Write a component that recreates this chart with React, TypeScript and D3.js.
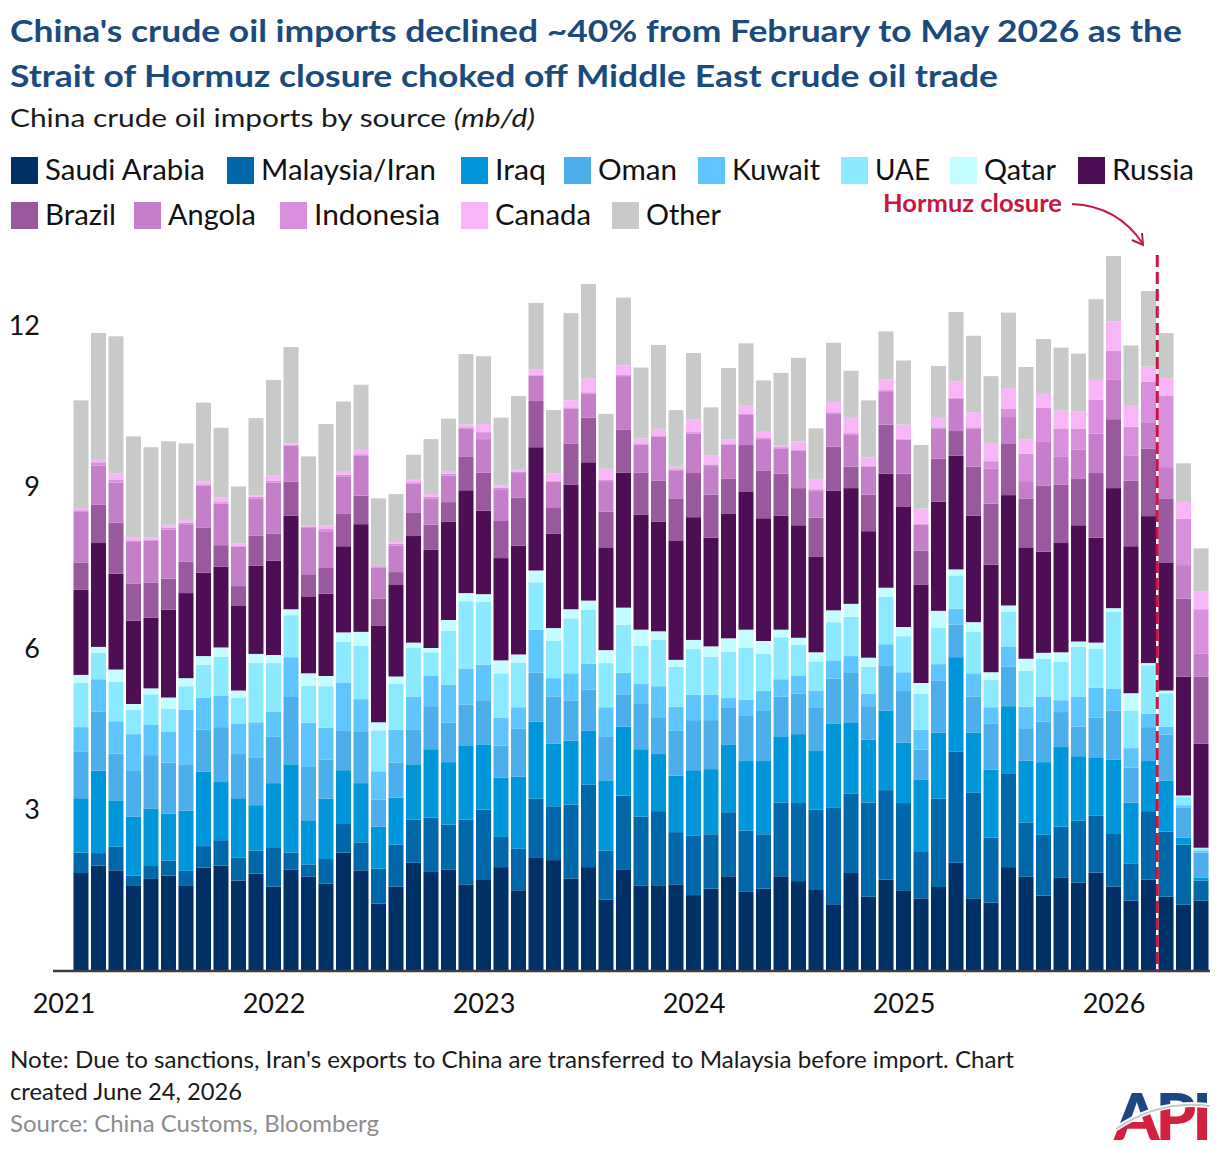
import React from 'react';
import * as d3 from 'd3';

// ---- data (mb/d), Jan 2021 .. May 2026 ----
const years = [2021, 2022, 2023, 2024, 2025, 2026];
const monthsInYear = [12, 12, 12, 12, 12, 5];
const months: string[] = years.flatMap((yr, i) =>
    d3.range(monthsInYear[i]).map(m => `${yr}-${String(m + 1).padStart(2, '0')}`));

const sources = ['Saudi Arabia', 'Malaysia/Iran', 'Iraq', 'Oman', 'Kuwait', 'UAE', 'Qatar',
    'Russia', 'Brazil', 'Angola', 'Indonesia', 'Canada', 'Other'];
const colors = ['#003066', '#0067a9', '#0097da', '#4caeea', '#5ec5ff', '#8beaff', '#c4fdff',
    '#4e0e56', '#9a599f', '#c57fca', '#d98fdd', '#f8b5f8', '#c8c9c9'];

const saudiArabia = [
    1.82, 1.96, 1.87, 1.58, 1.71, 1.77, 1.58, 1.92, 1.96, 1.68, 1.81, 1.57,
    1.88, 1.75, 1.62, 2.20, 1.87, 1.25, 1.57, 2.01, 1.84, 1.88, 1.61, 1.69,
    1.93, 1.50, 2.10, 2.06, 1.72, 1.93, 1.33, 1.89, 1.59, 1.58, 1.61, 1.41,
    1.53, 1.76, 1.48, 1.53, 1.76, 1.67, 1.52, 1.24, 1.82, 1.38, 1.70, 1.50,
    1.35, 1.56, 2.01, 1.35, 1.27, 1.93, 1.75, 1.40, 1.73, 1.64, 1.83, 1.57,
    1.31, 1.70, 1.38, 1.23, 1.31];
const malaysiaIran = [
    0.38, 0.23, 0.44, 0.19, 0.24, 0.28, 0.28, 0.40, 0.47, 0.43, 0.43, 0.73,
    0.32, 0.23, 0.46, 0.53, 0.52, 0.65, 0.78, 0.80, 1.01, 0.84, 1.20, 1.31,
    0.56, 0.77, 1.10, 1.00, 1.37, 1.53, 0.91, 1.37, 1.28, 1.39, 0.97, 1.11,
    1.01, 1.19, 1.13, 1.01, 1.37, 1.45, 1.48, 1.79, 1.48, 1.75, 1.66, 1.62,
    0.86, 1.64, 2.07, 1.96, 1.21, 1.73, 1.01, 1.13, 0.95, 1.15, 1.06, 0.99,
    0.69, 1.27, 1.21, 1.12, 0.37];
const iraq = [
    1.01, 1.53, 0.86, 1.10, 1.07, 0.87, 1.12, 1.38, 1.08, 1.10, 0.84, 1.19,
    1.64, 0.82, 1.12, 1.00, 1.10, 0.78, 0.87, 1.03, 1.27, 1.16, 1.37, 1.21,
    1.10, 1.34, 1.43, 1.16, 1.19, 1.00, 1.29, 1.28, 1.25, 1.06, 1.05, 1.21,
    1.21, 1.26, 1.29, 1.36, 1.23, 1.28, 1.10, 1.57, 1.32, 1.17, 1.48, 1.12,
    1.34, 1.23, 1.75, 1.12, 1.26, 1.26, 1.15, 1.35, 1.48, 1.20, 1.08, 1.37,
    1.13, 0.93, 0.95, 0.13, 0.05];
const oman = [
    0.86, 1.10, 0.87, 0.86, 0.99, 0.95, 0.86, 0.78, 1.02, 0.82, 0.89, 0.86,
    1.25, 0.99, 0.73, 0.73, 0.95, 0.50, 0.65, 0.65, 0.80, 0.73, 0.77, 0.82,
    0.60, 0.89, 0.91, 0.88, 0.74, 0.77, 0.83, 0.60, 0.84, 0.67, 0.83, 0.93,
    0.91, 0.69, 0.85, 0.93, 0.74, 0.75, 0.80, 0.83, 0.93, 0.62, 0.84, 0.96,
    0.56, 0.97, 0.60, 0.67, 0.86, 0.73, 0.60, 0.75, 0.65, 0.55, 0.74, 0.91,
    0.65, 0.63, 0.85, 0.55, 0.47];
const kuwait = [
    0.46, 0.60, 0.60, 0.67, 0.56, 0.57, 1.01, 0.60, 0.58, 0.56, 0.65, 0.47,
    0.74, 0.82, 0.59, 0.90, 0.61, 0.53, 0.61, 0.61, 0.57, 0.71, 0.67, 0.66,
    0.52, 0.40, 0.80, 0.34, 0.51, 0.48, 0.54, 0.40, 0.37, 0.59, 0.45, 0.47,
    0.47, 0.17, 0.29, 0.37, 0.32, 0.34, 0.31, 0.34, 0.30, 0.23, 0.39, 0.35,
    0.37, 0.30, 0.30, 0.43, 0.30, 0.38, 0.40, 0.47, 0.22, 0.56, 0.55, 0.40,
    0.36, 0.25, 0.15, 0.05, 0.03];
const uae = [
    0.82, 0.49, 0.73, 0.45, 0.57, 0.43, 0.44, 0.61, 0.73, 0.49, 1.10, 0.90,
    0.78, 0.69, 0.77, 0.76, 0.99, 0.76, 0.86, 0.91, 0.43, 1.00, 1.25, 1.17,
    0.82, 0.83, 0.88, 0.69, 1.02, 1.00, 0.82, 0.89, 0.71, 0.86, 0.74, 0.85,
    0.71, 0.86, 0.96, 0.69, 0.78, 0.57, 0.54, 0.71, 0.73, 0.50, 0.88, 0.67,
    0.67, 0.67, 0.62, 0.77, 0.51, 0.65, 0.67, 0.70, 0.71, 0.92, 0.73, 1.43,
    0.70, 0.90, 0.62, 0.16, 0.05];
const qatar = [
    0.15, 0.11, 0.23, 0.11, 0.11, 0.21, 0.15, 0.16, 0.17, 0.13, 0.17, 0.15,
    0.11, 0.23, 0.19, 0.17, 0.26, 0.15, 0.13, 0.09, 0.08, 0.20, 0.15, 0.14,
    0.24, 0.15, 0.22, 0.24, 0.17, 0.17, 0.24, 0.32, 0.30, 0.16, 0.13, 0.17,
    0.19, 0.25, 0.34, 0.24, 0.14, 0.13, 0.17, 0.22, 0.24, 0.17, 0.17, 0.17,
    0.20, 0.32, 0.11, 0.18, 0.14, 0.11, 0.22, 0.11, 0.18, 0.10, 0.11, 0.07,
    0.32, 0.04, 0.05, 0.02, 0.01];
const russia = [
    1.58, 1.93, 1.78, 1.55, 1.31, 1.63, 1.58, 1.55, 1.50, 1.57, 1.64, 1.75,
    1.74, 1.43, 1.53, 1.60, 2.00, 1.79, 1.70, 1.98, 1.83, 1.83, 1.91, 1.55,
    1.90, 2.02, 2.29, 1.75, 2.31, 2.57, 1.91, 2.51, 2.14, 2.04, 2.22, 2.28,
    2.02, 2.31, 2.57, 2.28, 2.12, 2.09, 1.77, 2.22, 2.15, 2.35, 2.12, 2.23,
    1.83, 2.03, 2.11, 1.98, 2.00, 2.05, 2.07, 1.88, 2.03, 2.16, 1.95, 2.23,
    2.73, 2.73, 2.38, 2.21, 1.93];
const brazil = [
    0.51, 0.71, 0.95, 0.69, 0.65, 0.58, 0.58, 0.84, 0.40, 0.37, 0.56, 0.50,
    0.63, 0.41, 0.49, 0.60, 0.53, 0.51, 0.24, 0.44, 0.46, 0.36, 0.63, 0.71,
    0.69, 0.89, 0.86, 0.48, 0.77, 0.83, 0.66, 0.80, 0.78, 0.76, 0.78, 0.82,
    0.80, 0.66, 0.86, 0.89, 0.78, 0.69, 0.73, 0.82, 0.40, 0.68, 0.91, 0.62,
    0.63, 0.80, 0.46, 0.91, 1.13, 0.95, 0.90, 1.23, 1.08, 0.86, 1.20, 1.28,
    1.22, 1.25, 1.19, 1.45, 1.25];
const angola = [
    0.95, 0.73, 0.74, 0.77, 0.78, 0.91, 0.70, 0.78, 0.77, 0.73, 0.69, 0.95,
    0.67, 0.86, 0.67, 0.70, 0.74, 0.57, 0.49, 0.53, 0.49, 0.49, 0.51, 0.62,
    0.59, 0.46, 0.47, 0.49, 0.65, 0.45, 0.57, 0.99, 0.52, 0.82, 0.51, 0.73,
    0.53, 0.63, 0.56, 0.58, 0.46, 0.70, 0.51, 0.62, 0.60, 0.52, 0.62, 0.63,
    0.48, 0.56, 0.60, 0.71, 0.65, 0.50, 0.33, 0.82, 0.52, 0.55, 0.73, 0.74,
    0.47, 0.48, 0.58, 0.62, 0.43];
const indonesia = [
    0.02, 0.06, 0.05, 0.03, 0.02, 0.03, 0.03, 0.02, 0.03, 0.02, 0.03, 0.04,
    0.02, 0.02, 0.04, 0.03, 0.03, 0.03, 0.04, 0.03, 0.03, 0.04, 0.03, 0.13,
    0.03, 0.03, 0.02, 0.02, 0.02, 0.02, 0.02, 0.02, 0.02, 0.02, 0.03, 0.03,
    0.03, 0.02, 0.02, 0.02, 0.03, 0.02, 0.02, 0.02, 0.02, 0.02, 0.02, 0.02,
    0.02, 0.02, 0.02, 0.02, 0.14, 0.15, 0.51, 0.62, 0.53, 0.38, 0.63, 0.53,
    0.53, 0.77, 1.33, 0.86, 0.82];
const canada = [
    0.04, 0.06, 0.12, 0.05, 0.04, 0.06, 0.05, 0.06, 0.09, 0.04, 0.03, 0.10,
    0.02, 0.02, 0.07, 0.07, 0.08, 0.02, 0.03, 0.06, 0.05, 0.05, 0.05, 0.15,
    0.04, 0.03, 0.10, 0.13, 0.13, 0.26, 0.21, 0.18, 0.09, 0.12, 0.05, 0.24,
    0.17, 0.07, 0.15, 0.13, 0.03, 0.15, 0.19, 0.19, 0.30, 0.15, 0.20, 0.26,
    0.28, 0.19, 0.30, 0.28, 0.34, 0.39, 0.26, 0.26, 0.33, 0.32, 0.37, 0.55,
    0.39, 0.28, 0.32, 0.33, 0.33];
const other = [
    2.00, 2.34, 2.55, 1.88, 1.68, 1.55, 1.42, 1.46, 1.29, 1.06, 1.43, 1.77,
    1.79, 1.29, 1.88, 1.29, 1.21, 1.24, 0.89, 0.45, 1.02, 0.97, 1.31, 1.26,
    1.26, 1.37, 1.23, 1.18, 1.62, 1.75, 1.02, 1.26, 1.32, 1.56, 1.05, 1.23,
    0.89, 1.33, 1.16, 0.94, 1.35, 1.55, 0.94, 1.10, 0.86, 1.06, 0.89, 1.19,
    1.18, 0.95, 1.29, 1.42, 1.24, 1.40, 1.35, 1.02, 1.17, 1.08, 1.50, 1.21,
    1.12, 1.40, 0.84, 0.70, 0.80];

const seriesValues = [saudiArabia, malaysiaIran, iraq, oman, kuwait, uae, qatar,
    russia, brazil, angola, indonesia, canada, other];
const yTicks = [3, 6, 9, 12];
const closureMonth = '2026-03';

// legend layout: [series index, square x, row, label width]
const legendLayout: [number, number, number, number][] = [
    [0, 11, 0, 160], [1, 227, 0, 175], [2, 461, 0, 51], [3, 564, 0, 79],
    [4, 698, 0, 88], [5, 841, 0, 55], [6, 950, 0, 72], [7, 1078, 0, 82],
    [8, 11, 1, 71], [9, 134, 1, 88], [10, 280, 1, 126], [11, 461, 1, 96], [12, 612, 1, 75],
];

const FONT = 'Lato, "Open Sans", sans-serif';

const App: React.FC = () => {
    const x = d3.scaleBand<string>()
        .domain(months)
        .range([72, 1210])
        .paddingInner(0.143)
        .paddingOuter(0.085);
    const y = d3.scaleLinear().domain([0, 12]).range([971, 325]);

    const table = months.map((m, i) => {
        const row: Record<string, any> = { month: m };
        sources.forEach((s, k) => { row[s] = seriesValues[k][i]; });
        return row;
    });
    const layers = d3.stack<Record<string, any>>().keys(sources)(table);

    const bw = x.bandwidth();
    const gap = x.step() - bw;
    const dashX = (x(closureMonth) as number) - gap / 2;

    return (
        <div style={{ position: 'absolute', left: 0, top: 0 }}>
            <svg width={1220} height={1154} style={{ display: 'block', fontFamily: FONT }}>
                <rect width={1220} height={1154} fill="#fff" />

                {/* titles */}
                <text x={10} y={42} fontSize={31} fontWeight={700} fill="#1b4b7e"
                    textLength={1172} lengthAdjust="spacingAndGlyphs">
                    China's crude oil imports declined ~40% from February to May 2026 as the
                </text>
                <text x={10} y={87} fontSize={31} fontWeight={700} fill="#1b4b7e"
                    textLength={988} lengthAdjust="spacingAndGlyphs">
                    Strait of Hormuz closure choked off Middle East crude oil trade
                </text>
                <text x={10} y={127} fontSize={25} fill="#1a1a1a"
                    textLength={525} lengthAdjust="spacingAndGlyphs">
                    China crude oil imports by source <tspan fontStyle="italic">(mb/d)</tspan>
                </text>

                {/* legend */}
                {legendLayout.map(([k, lx, row, tw]) => {
                    const ly = row === 0 ? 157 : 202;
                    return (
                        <g key={sources[k]}>
                            <rect x={lx} y={ly} width={27} height={27} fill={colors[k]} />
                            <text x={lx + 34} y={ly + 23} fontSize={28.5} fill="#111"
                                textLength={tw} lengthAdjust="spacingAndGlyphs">{sources[k]}</text>
                        </g>
                    );
                })}

                {/* bars */}
                {layers.map((layer, k) => (
                    <g key={layer.key} fill={colors[k]}>
                        {layer.map(d => (
                            <rect key={d.data.month}
                                x={x(d.data.month)}
                                y={y(d[1])}
                                width={bw}
                                height={Math.max(0, y(d[0]) - y(d[1]))} />
                        ))}
                    </g>
                ))}

                {/* baseline */}
                <line x1={53} x2={1210} y1={y(0)} y2={y(0)} stroke="#3c3c3c" strokeWidth={2.5} />

                {/* y tick labels */}
                {yTicks.map(t => (
                    <text key={t} x={40} y={y(t) + 9.5} fontSize={27} textAnchor="end" fill="#111">{t}</text>
                ))}

                {/* x year labels */}
                {years.map(yr => (
                    <text key={yr} x={(x(`${yr}-01`) as number) + bw / 2 - 17} y={1013}
                        fontSize={27} textAnchor="middle" fill="#111">{yr}</text>
                ))}

                {/* Hormuz closure marker */}
                <line x1={dashX} x2={dashX} y1={y(13.3)} y2={y(0)}
                    stroke="#c8163e" strokeWidth={3} strokeDasharray="12,5" />
                <text x={883} y={212} fontSize={25} fontWeight={700} fill="#c8163e"
                    textLength={179} lengthAdjust="spacingAndGlyphs">Hormuz closure</text>
                <path d="M1072,204 Q1118,206 1143,244" fill="none" stroke="#c8163e" strokeWidth={2} />
                <path d="M1132,240 L1143,245 L1142,233" fill="none" stroke="#c8163e" strokeWidth={2} />

                {/* notes */}
                <text x={10} y={1068} fontSize={24} fill="#1a1a1a"
                    textLength={1004} lengthAdjust="spacingAndGlyphs">
                    Note: Due to sanctions, Iran's exports to China are transferred to Malaysia before import. Chart
                </text>
                <text x={10} y={1100} fontSize={24} fill="#1a1a1a"
                    textLength={232} lengthAdjust="spacingAndGlyphs">created June 24, 2026</text>
                <text x={10} y={1132} fontSize={24} fill="#8c8c8c"
                    textLength={369} lengthAdjust="spacingAndGlyphs">Source: China Customs, Bloomberg</text>

                {/* API logo */}
                <defs>
                    <clipPath id="logoTop">
                        <path d="M1100,1080 L1215,1080 L1215,1106 Q1160,1098 1116,1128 L1100,1128 Z" />
                    </clipPath>
                    <clipPath id="logoBottom">
                        <path d="M1100,1128 L1116,1128 Q1160,1098 1215,1106 L1215,1150 L1100,1150 Z" />
                    </clipPath>
                </defs>
                <g fontSize={65} fontWeight={900} textAnchor="middle" letterSpacing={-4}>
                    <text x={1161} y={1140} fill="#1d4784" clipPath="url(#logoTop)">API</text>
                    <text x={1161} y={1140} fill="#d2203f" clipPath="url(#logoBottom)">API</text>
                </g>
                <path d="M1114,1130 Q1160,1098 1212,1106" fill="none" stroke="#fff" strokeWidth={5} />
                <path d="M1116,1129 Q1160,1099 1210,1106" fill="none" stroke="#c9c9c9" strokeWidth={2} />
            </svg>
        </div>
    );
};

export default App;
